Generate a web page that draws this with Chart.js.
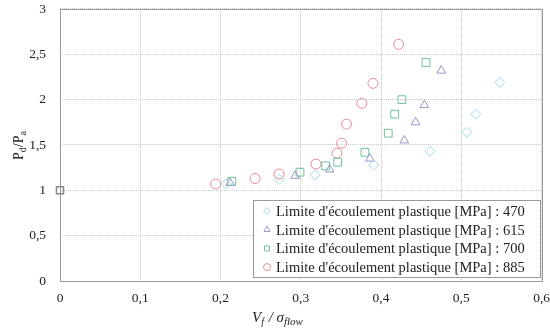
<!DOCTYPE html>
<html>
<head>
<meta charset="utf-8">
<script src="https://cdn.jsdelivr.net/npm/chart.js@4.4.1/dist/chart.umd.min.js"></script>
<style>
	html, body { margin: 0; padding: 0; background: #fff; }
	#wrap { width: 550px; height: 331px; }
</style>
</head>
<body>
<div id="wrap"><canvas id="chart"></canvas></div>
<script>
	// ===== DATA =====
	const seriesLabels = [
		"Limite d'écoulement plastique [MPa] : 470",
		"Limite d'écoulement plastique [MPa] : 615",
		"Limite d'écoulement plastique [MPa] : 700",
		"Limite d'écoulement plastique [MPa] : 885"
	];
	const x470 = [0.207, 0.273, 0.318, 0.391, 0.461, 0.507, 0.518, 0.548];
	const y470 = [1.07, 1.12, 1.17, 1.28, 1.43, 1.64, 1.84, 2.19];
	const x615 = [0.212, 0.293, 0.336, 0.386, 0.429, 0.443, 0.454, 0.475];
	const y615 = [1.08, 1.16, 1.23, 1.35, 1.55, 1.75, 1.94, 2.32];
	const x700 = [0.214, 0.299, 0.331, 0.346, 0.380, 0.409, 0.417, 0.426, 0.456];
	const y700 = [1.10, 1.20, 1.27, 1.31, 1.42, 1.63, 1.84, 2.00, 2.41];
	const x885 = [0.194, 0.243, 0.273, 0.319, 0.345, 0.351, 0.357, 0.376, 0.390, 0.422];
	const y885 = [1.07, 1.13, 1.18, 1.29, 1.41, 1.52, 1.73, 1.96, 2.18, 2.61];
	const xRef = [0];
	const yRef = [1];
	const xTicks = [0, 0.1, 0.2, 0.3, 0.4, 0.5, 0.6];
	const yTicks = [0, 0.5, 1, 1.5, 2, 2.5, 3];

	const colors = ['#9fd8e6', '#9c93c9', '#6fc39c', '#e68b9b'];
	const shapes = ['rectRot', 'triangle', 'rect', 'circle'];
	const xs = [x470, x615, x700, x885];
	const ys = [y470, y615, y700, y885];

	const fmt = v => String(v).replace('.', ',');
	const serif = '"Liberation Serif", "DejaVu Serif", serif';

	const datasets = seriesLabels.map((label, i) => ({
		label: label,
		data: xs[i].map((x, j) => ({ x: x, y: ys[i][j] })),
		pointStyle: shapes[i],
		pointRadius: shapes[i] === 'rect' ? 5.5 : 5,
		borderColor: colors[i],
		backgroundColor: 'rgba(0,0,0,0)',
		pointBorderWidth: 1,
		showLine: false,
		clip: false
	}));
	datasets.push({
		label: 'ref',
		data: xRef.map((x, j) => ({ x: x, y: yRef[j] })),
		pointStyle: 'rect',
		pointRadius: 5,
		borderColor: '#888',
		backgroundColor: 'rgba(0,0,0,0)',
		pointBorderWidth: 1.5,
		showLine: false,
		clip: false
	});

	// frame, axis titles and legend inside the plot
	const extras = {
		id: 'extras',
		beforeDatasetsDraw(chart) {
			const ctx = chart.ctx;
			const a = chart.chartArea;
			ctx.save();
			ctx.strokeStyle = '#999';
			ctx.lineWidth = 1;
			ctx.strokeRect(Math.round(a.left) + 0.5, Math.round(a.top) + 0.5,
				Math.round(a.right - a.left), Math.round(a.bottom - a.top));
			ctx.restore();
		},
		afterDatasetsDraw(chart) {
			const ctx = chart.ctx;
			ctx.save();

			// legend box
			const bx = 253.5, by = 200.5, bw = 287, bh = 77;
			ctx.fillStyle = '#fff';
			ctx.fillRect(bx, by, bw, bh);
			ctx.strokeStyle = '#999';
			ctx.lineWidth = 1;
			ctx.strokeRect(bx, by, bw, bh);
			ctx.font = '14.5px ' + serif;
			ctx.textBaseline = 'middle';
			ctx.textAlign = 'left';
			seriesLabels.forEach((label, i) => {
				const ly = 211 + i * 18.7;
				ctx.strokeStyle = colors[i];
				ctx.fillStyle = 'rgba(0,0,0,0)';
				ctx.lineWidth = 1;
				Chart.helpers.drawPoint(ctx, { pointStyle: shapes[i], radius: 3.5, rotation: 0, borderWidth: 1 }, 267, ly);
				ctx.fillStyle = '#222';
				ctx.fillText(label, 276, ly + 1);
			});

			// y axis title P_d/P_a
			ctx.save();
			ctx.translate(19, 141);
			ctx.rotate(-Math.PI / 2);
			ctx.fillStyle = '#222';
			ctx.textAlign = 'left';
			ctx.font = '14px ' + serif;
			let x0 = -19;
			ctx.fillText('P', x0, 0); x0 += ctx.measureText('P').width;
			ctx.font = '10px ' + serif;
			ctx.fillText('d', x0, 4); x0 += ctx.measureText('d').width;
			ctx.font = '14px ' + serif;
			ctx.fillText('/P', x0, 0); x0 += ctx.measureText('/P').width;
			ctx.font = '10px ' + serif;
			ctx.fillText('a', x0, 4);
			ctx.restore();

			// x axis title V_f / sigma_flow
			ctx.fillStyle = '#222';
			ctx.textAlign = 'left';
			let tx = 252;
			const ty = 318;
			ctx.font = 'italic 15px ' + serif;
			ctx.fillText('V', tx, ty); tx += ctx.measureText('V').width;
			ctx.font = 'italic 10px ' + serif;
			ctx.fillText('f', tx, ty + 4); tx += ctx.measureText('f').width + 1;
			ctx.font = 'italic 15px ' + serif;
			ctx.fillText(' / σ', tx, ty); tx += ctx.measureText(' / σ').width;
			ctx.font = 'italic 11px ' + serif;
			ctx.fillText('flow', tx, ty + 4);
			ctx.restore();
		}
	};

	new Chart(document.getElementById('chart'), {
		type: 'scatter',
		data: { datasets: datasets },
		options: {
			responsive: true,
			maintainAspectRatio: false,
			animation: false,
			layout: { padding: { top: 0, right: 0, left: 0, bottom: 0 } },
			plugins: {
				legend: { display: false },
				tooltip: { enabled: false }
			},
			scales: {
				x: {
					type: 'linear',
					min: 0, max: 0.6,
					afterBuildTicks: s => { s.ticks = xTicks.map(v => ({ value: v })); },
					afterFit: s => { s.height = 50; },
					ticks: {
						color: '#222',
						font: { family: serif, size: 13.5 },
						padding: 0,
						maxRotation: 0,
						callback: v => fmt(v)
					},
					grid: { color: '#c8c8c8', drawTicks: true, tickLength: 9, tickColor: 'rgba(0,0,0,0)' },
					border: { display: false, dash: [1, 1] }
				},
				y: {
					type: 'linear',
					min: 0, max: 3,
					afterBuildTicks: s => { s.ticks = yTicks.map(v => ({ value: v })); },
					afterFit: s => { s.width = 60; },
					ticks: {
						color: '#222',
						font: { family: serif, size: 13.5, lineHeight: 1.33 },
						padding: 0,
						callback: v => fmt(v)
					},
					grid: { color: '#c8c8c8', drawTicks: true, tickLength: 14, tickColor: 'rgba(0,0,0,0)' },
					border: { display: false, dash: [1, 1] }
				}
			}
		},
		plugins: [extras]
	});
</script>
</body>
</html>
